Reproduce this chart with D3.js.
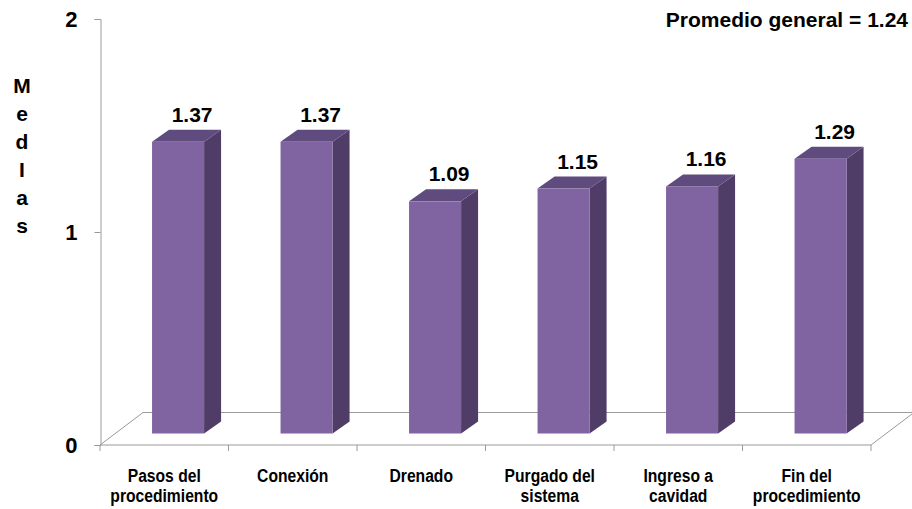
<!DOCTYPE html>
<html>
<head>
<meta charset="utf-8">
<script src="https://cdn.jsdelivr.net/npm/d3@7/dist/d3.min.js"></script>
<style>
  html, body { margin: 0; padding: 0; background: #ffffff; }
  svg { display: block; }
  .bold { font-family: "Liberation Sans", Arial, sans-serif; font-weight: bold; fill: #000; }
</style>
</head>
<body>
<svg id="chart" width="912" height="509"></svg>
<script>
// Category labels, one entry per line of text under each bar
const categoryLines = [
  ["Pasos del", "procedimiento"],
  ["Conexión"],
  ["Drenado"],
  ["Purgado del", "sistema"],
  ["Ingreso a", "cavidad"],
  ["Fin del", "procedimiento"]
];
const categories = categoryLines.map(l => l.join(" "));
const values = [1.37, 1.37, 1.09, 1.15, 1.16, 1.29];
const yTicks = [0, 1, 2];
const overallMean = 1.24;
const axisTitle = ["M", "e", "d", "I", "a", "s"];

const svg = d3.select("#chart");

// plot frame (front plane of the 3D floor)
const plotLeft = 100, plotRight = 871, plotTop = 19, floorY = 445;
// depth of the floor and of each bar
const floorDepth = { dx: 43, dy: -32.5 };
const barDepth = { dx: 17, dy: -12 };
const barLift = 11.5; // bars stand half-way into the floor

const x = d3.scaleBand().domain(categories).range([plotLeft, plotRight]).padding(0);
const y = d3.scaleLinear().domain([0, 2]).range([floorY, plotTop]);

const colFront = "#8064a2", colTop = "#604b7f", colSide = "#4f3d68";
const lineCol = "#9a9a9a";

// floor parallelogram
const floor = svg.append("g");
floor.append("path")
  .attr("d", `M${plotLeft},${floorY} L${plotLeft + floorDepth.dx},${floorY + floorDepth.dy} L${plotRight + floorDepth.dx},${floorY + floorDepth.dy} L${plotRight},${floorY}`)
  .attr("fill", "none").attr("stroke", lineCol).attr("stroke-width", 1);

// category axis with ticks at band edges
const edges = d3.range(categories.length + 1).map(i => plotLeft + i * x.step());
floor.append("line").attr("x1", plotLeft).attr("x2", plotRight).attr("y1", floorY).attr("y2", floorY)
  .attr("stroke", lineCol);
floor.selectAll("line.tick").data(edges).join("line").attr("class", "tick")
  .attr("x1", d => d).attr("x2", d => d).attr("y1", floorY).attr("y2", floorY + 6)
  .attr("stroke", lineCol);

// value axis
const yAxis = d3.axisLeft(y).tickValues(yTicks).tickSize(6).tickPadding(17).tickFormat(d3.format("d"));
const ga = svg.append("g").attr("transform", `translate(${plotLeft + 0.5},0)`).call(yAxis);
ga.attr("font-family", null).attr("font-size", null);
ga.select(".domain").attr("stroke", lineCol);
ga.selectAll(".tick line").attr("stroke", lineCol);
ga.selectAll(".tick text").attr("class", "bold").attr("font-size", 22).attr("dy", "0.36em");

// bars
const bw = x.bandwidth() * 0.405;
const bars = svg.append("g").selectAll("g").data(values).join("g");
bars.each(function (v, i) {
  const g = d3.select(this);
  const x0 = x(categories[i]) + x.bandwidth() * 0.405;
  const x1 = x0 + bw;
  const yb = y(0) - barLift;
  const yt = y(v) - barLift;
  const dx = barDepth.dx, dy = barDepth.dy;
  // side face
  g.append("path")
    .attr("d", `M${x1},${yt} L${x1 + dx},${yt + dy} L${x1 + dx},${yb + dy} L${x1},${yb} Z`)
    .attr("fill", colSide);
  // top face
  g.append("path")
    .attr("d", `M${x0},${yt} L${x0 + dx},${yt + dy} L${x1 + dx},${yt + dy} L${x1},${yt} Z`)
    .attr("fill", colTop);
  // front face
  g.append("rect").attr("x", x0).attr("y", yt).attr("width", bw).attr("height", yb - yt)
    .attr("fill", colFront);
  // value label
  g.append("text").attr("class", "bold").attr("font-size", 21)
    .attr("text-anchor", "middle")
    .attr("x", x0 + bw / 2 + 14).attr("y", yt - 20)
    .text(d3.format(".2f")(v));
});

// category labels (condensed bold)
const cl = svg.append("g").selectAll("text").data(categoryLines).join("text")
  .attr("class", "bold").attr("font-size", 18).attr("text-anchor", "middle")
  .attr("transform", (d, i) => `translate(${x(categories[i]) + x.bandwidth() / 2},482) scale(0.87,1)`);
cl.selectAll("tspan").data(d => d).join("tspan")
  .attr("x", 0)
  .attr("y", (d, j) => j * 20)
  .text(d => d);

// stacked axis title
svg.append("text").attr("class", "bold").attr("font-size", 21).attr("text-anchor", "middle")
  .selectAll("tspan").data(axisTitle).join("tspan")
  .attr("x", 22).attr("y", (d, i) => 93 + i * 28)
  .text(d => d);

// overall mean note
svg.append("text").attr("class", "bold").attr("font-size", 21).attr("text-anchor", "end")
  .attr("x", 908).attr("y", 27)
  .text(`Promedio general = ${d3.format(".2f")(overallMean)}`);
</script>
</body>
</html>
